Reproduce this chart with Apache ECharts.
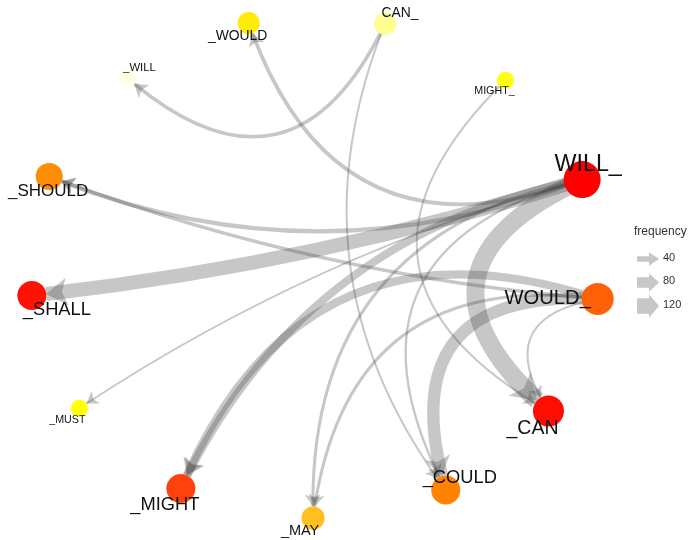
<!DOCTYPE html>
<html>
<head>
<meta charset="utf-8">
<script src="https://cdn.jsdelivr.net/npm/echarts@6/dist/echarts.min.js"></script>
<style>
html, body { margin: 0; padding: 0; background: #fff; }
#chart { width: 700px; height: 540px; }
</style>
</head>
<body>
<div id="chart"></div>
<script>
// nodes, in ring order (clockwise from _CAN)
const nodeNames = ['_CAN', '_COULD', '_MAY', '_MIGHT', '_MUST', '_SHALL', '_SHOULD', '_WILL', '_WOULD', 'CAN_', 'MIGHT_', 'WILL_', 'WOULD_'];
// node colour value
const nodeHeat = [126, 86, 65, 108, 42, 124, 82, 3, 50, 20, 40, 130, 97];
// node size value
const nodeScore = [19, 17, 11, 17, 5, 17, 15, 6, 10, 10, 5, 25, 20];

// edges
const edgeSource = ['WILL_', 'WILL_', 'WILL_', 'WOULD_', 'WILL_', 'CAN_', 'CAN_', 'MIGHT_', 'WOULD_', 'WOULD_', 'WOULD_', 'WILL_', 'WILL_', 'WOULD_', 'WILL_', 'WILL_'];
const edgeTarget = ['_SHALL', '_CAN', '_SHOULD', '_SHOULD', '_WOULD', '_WILL', '_COULD', '_CAN', '_COULD', '_CAN', '_MIGHT', '_MIGHT', '_MAY', '_MAY', '_COULD', '_MUST'];
const edgeFreq = [110, 140, 30, 25, 25, 25, 12, 12, 95, 12, 60, 60, 20, 20, 15, 10];
const edgeBend = [0.05, -0.77, 0.2, 0.07, 0.51, 0.65, -0.28, -0.66, -0.7, -0.75, -0.46, -0.25, -0.42, -0.5, -0.62, -0.08];

const legendFreq = [40, 80, 120];

// ring layout (stretched circle)
const cx = 315, cy = 267, rx = 285, ry = 251;
const startDeg = 35;
const labelShift = {
  '_WOULD': [-11, 13], 'CAN_': [15, -11], 'MIGHT_': [-11, 11], 'WILL_': [6, -15],
  'WOULD_': [-50, 0], '_CAN': [-16, 18], '_COULD': [14, -12], '_MAY': [-13, 13],
  '_MIGHT': [-16, 16], '_MUST': [-12, 12], '_SHALL': [25, 14], '_SHOULD': [-1, 15],
  '_WILL': [12, -10]
};

const edgeWidth = f => f / 8 + 0.5;
const edgeColor = 'rgba(70,70,70,0.3)';

const nodes = nodeNames.map((name, i) => {
  const a = (startDeg + i * 360 / nodeNames.length) * Math.PI / 180;
  const d = 12 + nodeScore[i];
  return {
    name: name,
    value: nodeHeat[i],
    x: cx + rx * Math.cos(a),
    y: cy + ry * Math.sin(a),
    symbolSize: d,
    label: { fontSize: Math.round(d * 0.63 * 10) / 10, offset: labelShift[name] }
  };
});

const xs = nodes.map(n => n.x), ys = nodes.map(n => n.y);
const minX = Math.min(...xs), maxX = Math.max(...xs);
const minY = Math.min(...ys), maxY = Math.max(...ys);

const links = edgeSource.map((s, i) => ({
  source: s,
  target: edgeTarget[i],
  value: edgeFreq[i],
  symbolSize: [0, 10 + edgeFreq[i] / 10],
  lineStyle: { width: edgeWidth(edgeFreq[i]), curveness: edgeBend[i] }
}));

// legend glyphs
const legendItems = [{
  type: 'text', left: 634, top: 226,
  style: { text: 'frequency', fontSize: 12, fill: '#333', fontFamily: 'Liberation Sans' }
}];
legendFreq.forEach((f, i) => {
  const y = 259 + i * 23.5;
  const w = edgeWidth(f);
  const h = w / 2 + 4;
  legendItems.push({
    type: 'rect', shape: { x: 637, y: y - w / 2, width: 12, height: w },
    style: { fill: edgeColor }
  });
  legendItems.push({
    type: 'polygon', shape: { points: [[649, y - h], [659, y], [649, y + h]] },
    style: { fill: edgeColor }
  });
  legendItems.push({
    type: 'text', left: 663, top: y - 7,
    style: { text: String(f), fontSize: 11, fill: '#333', fontFamily: 'Liberation Sans' }
  });
});

const chart = echarts.init(document.getElementById('chart'));
chart.setOption({
  backgroundColor: '#fff',
  animation: false,
  visualMap: {
    show: false,
    type: 'continuous',
    seriesIndex: 0,
    min: 0,
    max: 130,
    inRange: { color: ['#fffff2', '#ffff88', '#ffff00', '#ffc020', '#ff8000', '#ff4010', '#ff0000'] }
  },
  graphic: legendItems,
  series: [{
    type: 'graph',
    layout: 'none',
    left: minX, top: minY,
    width: maxX - minX, height: maxY - minY,
    edgeSymbol: ['none', 'arrow'],
    data: nodes,
    links: links,
    label: {
      show: true,
      position: 'inside',
      color: '#111',
      fontFamily: 'Liberation Sans'
    },
    itemStyle: { opacity: 1 },
    lineStyle: { color: edgeColor, opacity: 1 },
    emphasis: { disabled: true }
  }]
});
</script>
</body>
</html>
